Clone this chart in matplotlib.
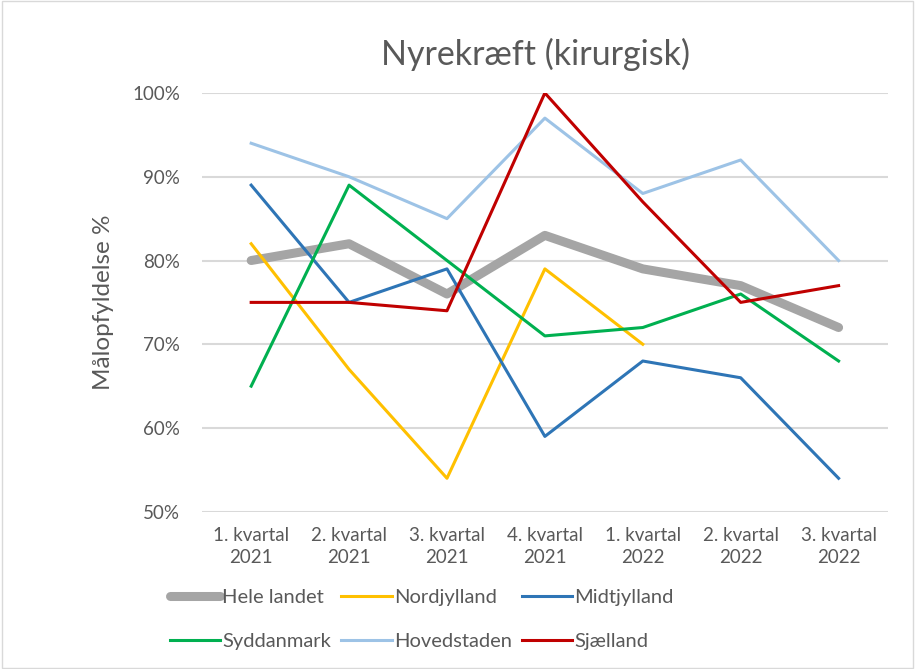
import numpy as np
import matplotlib.pyplot as plt
from matplotlib.patches import Rectangle

plt.rcParams['font.family'] = ['Lato', 'DejaVu Sans']

# data
kvartaler = ['1. kvartal\n2021', '2. kvartal\n2021', '3. kvartal\n2021', '4. kvartal\n2021',
             '1. kvartal\n2022', '2. kvartal\n2022', '3. kvartal\n2022']
hele_landet = [80, 82, 76, 83, 79, 77, 72]
nordjylland = [82, 67, 54, 79, 70, np.nan, np.nan]
midtjylland = [89, 75, 79, 59, 68, 66, 54]
syddanmark = [65, 89, 80, 71, 72, 76, 68]
hovedstaden = [94, 90, 85, 97, 88, 92, 80]
sjaelland = [75, 75, 74, 100, 87, 75, 77]

tekst = '#595959'

fig = plt.figure(figsize=(9.15, 6.69), dpi=100)
ax = fig.add_axes([0.221, 0.235, 0.749, 0.626])

x = np.arange(len(kvartaler))
l_hele, = ax.plot(x, hele_landet, color='#A5A5A5', lw=6.5, solid_capstyle='round', label='Hele landet')
l_nord, = ax.plot(x, nordjylland, color='#FFC000', lw=2.2, label='Nordjylland')
l_midt, = ax.plot(x, midtjylland, color='#2E75B6', lw=2.2, label='Midtjylland')
l_syd, = ax.plot(x, syddanmark, color='#00B050', lw=2.2, label='Syddanmark')
l_hov, = ax.plot(x, hovedstaden, color='#9DC3E6', lw=2.2, label='Hovedstaden')
l_sj, = ax.plot(x, sjaelland, color='#C00000', lw=2.2, label='Sjælland')

ax.set_xlim(-0.5, len(kvartaler) - 0.5)
ax.set_ylim(50, 100)
ax.set_yticks(range(50, 101, 10))
ax.set_yticklabels([f'{v}%' for v in range(50, 101, 10)])
ax.set_xticks(x)
ax.set_xticklabels(kvartaler, linespacing=1.35)
ax.tick_params(length=0, labelsize=13.5, labelcolor=tekst, pad=11)
ax.tick_params(axis='y', pad=16)
ax.grid(axis='y', color='#D9D9D9', lw=1.5)
ax.set_axisbelow(True)
for s in ax.spines.values():
    s.set_visible(False)

fig.text(104 / 915, 0.548, 'Målopfyldelse %', rotation=90, ha='center', va='center',
         fontsize=17.5, color=tekst)
fig.text(0.585, 0.918, 'Nyrekræft (kirurgisk)', ha='center', va='center', fontsize=24.5, color=tekst)

# legend fylder kolonnevis
handles = [l_hele, l_syd, l_nord, l_hov, l_midt, l_sj]
fig.legend(handles=handles, labels=[h.get_label() for h in handles], ncol=3,
           loc='center', bbox_to_anchor=(0.461, 0.074), frameon=False,
           fontsize=14.5, labelcolor=tekst, handlelength=2.5, handletextpad=0.1,
           columnspacing=0.5, labelspacing=1.35)

fig.patches.append(Rectangle((0.002, 0.002), 0.996, 0.996, transform=fig.transFigure,
                             fill=False, edgecolor='#D9D9D9', lw=1))

fig.savefig('out.png', dpi=100)
